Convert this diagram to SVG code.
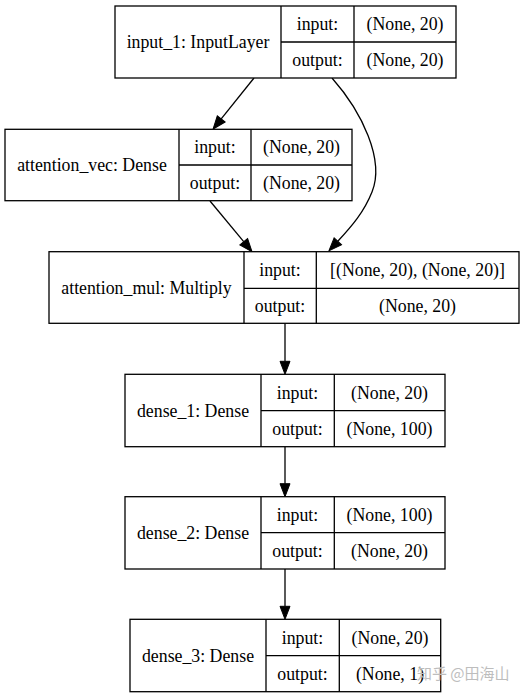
<svg xmlns="http://www.w3.org/2000/svg" width="527" height="699" viewBox="0 0 527 699">
<defs>
<style>
.box{fill:#fff;stroke:#000;stroke-width:1.3}
.ln{fill:none;stroke:#000;stroke-width:1.3}
.t{font-family:"Liberation Serif","Times New Roman",serif;font-size:17.8px;fill:#000;text-anchor:middle}
.edge{fill:none;stroke:#000;stroke-width:1.3}
.wm{font-family:"Noto Sans CJK SC","Noto Sans",sans-serif;font-size:15px;fill:#bdbdbd}
</style>
<marker id="ah" markerUnits="userSpaceOnUse" markerWidth="16" markerHeight="12" refX="0" refY="0" viewBox="0 -6 14 12" orient="auto" overflow="visible">
<path d="M0,-5 L13,0 L0,5 z" fill="#000" stroke="#000" stroke-width="1"/>
</marker>
</defs>
<rect width="527" height="699" fill="#fff"/>
<g id="connectors">
<path class="edge" d="M254,78 L221.2,118.9" marker-end="url(#ah)"/>
<path class="edge" d="M332,78 C362,112 385,160 372,192 C364,212 352,226 337.8,241.3" marker-end="url(#ah)"/>
<path class="edge" d="M210,201 L243.7,241.7" marker-end="url(#ah)"/>
<path class="edge" d="M285,323.3 L285,361.3" marker-end="url(#ah)"/>
<path class="edge" d="M285,446.7 L285,483.7" marker-end="url(#ah)"/>
<path class="edge" d="M285,569 L285,606.3" marker-end="url(#ah)"/>
</g>
<g id="input_1">
<rect class="box" x="115" y="6" width="341" height="72"/>
<path class="ln" d="M281,6 V78 M354,6 V78 M281,42 H456"/>
<text class="t" x="198" y="48">input_1: InputLayer</text>
<text class="t" x="317.5" y="30">input:</text>
<text class="t" x="317.5" y="66">output:</text>
<text class="t" x="405" y="30">(None, 20)</text>
<text class="t" x="405" y="66">(None, 20)</text>
</g>
<g id="attention_vec">
<rect class="box" x="5" y="129.3" width="347" height="71.4"/>
<path class="ln" d="M179,129.3 V200.7 M251,129.3 V200.7 M179,165 H352"/>
<text class="t" x="92" y="171">attention_vec: Dense</text>
<text class="t" x="215" y="153">input:</text>
<text class="t" x="215" y="189">output:</text>
<text class="t" x="301.5" y="153">(None, 20)</text>
<text class="t" x="301.5" y="189">(None, 20)</text>
</g>
<g id="attention_mul">
<rect class="box" x="49" y="251.7" width="470" height="71.6"/>
<path class="ln" d="M244,251.7 V323.3 M316.3,251.7 V323.3 M244,288.3 H519"/>
<text class="t" x="146.5" y="293.5">attention_mul: Multiply</text>
<text class="t" x="280" y="276">input:</text>
<text class="t" x="280" y="312">output:</text>
<text class="t" x="417.5" y="276">[(None, 20), (None, 20)]</text>
<text class="t" x="417.5" y="312">(None, 20)</text>
</g>
<g id="dense_1">
<rect class="box" x="125" y="374.3" width="320" height="72.4"/>
<path class="ln" d="M261,374.3 V446.7 M334.3,374.3 V446.7 M261,410.7 H445"/>
<text class="t" x="193" y="416.5">dense_1: Dense</text>
<text class="t" x="297.5" y="398.5">input:</text>
<text class="t" x="297.5" y="434.7">output:</text>
<text class="t" x="389.5" y="398.5">(None, 20)</text>
<text class="t" x="389.5" y="434.7">(None, 100)</text>
</g>
<g id="dense_2">
<rect class="box" x="125" y="496.7" width="320" height="72.3"/>
<path class="ln" d="M261,496.7 V569 M334.3,496.7 V569 M261,532.7 H445"/>
<text class="t" x="193" y="538.8">dense_2: Dense</text>
<text class="t" x="297.5" y="520.7">input:</text>
<text class="t" x="297.5" y="556.8">output:</text>
<text class="t" x="389.5" y="520.7">(None, 100)</text>
<text class="t" x="389.5" y="556.8">(None, 20)</text>
</g>
<g id="dense_3">
<rect class="box" x="130" y="619.3" width="310.7" height="72.4"/>
<path class="ln" d="M266,619.3 V691.7 M339.3,619.3 V691.7 M266,655.7 H440.7"/>
<text class="t" x="198" y="661.5">dense_3: Dense</text>
<text class="t" x="302.5" y="643.5">input:</text>
<text class="t" x="302.5" y="679.7">output:</text>
<text class="t" x="390" y="643.5">(None, 20)</text>
<text class="t" x="390" y="679.7">(None, 1)</text>
</g>
<text class="wm" x="417" y="679">知乎 @田海山</text>
</svg>
